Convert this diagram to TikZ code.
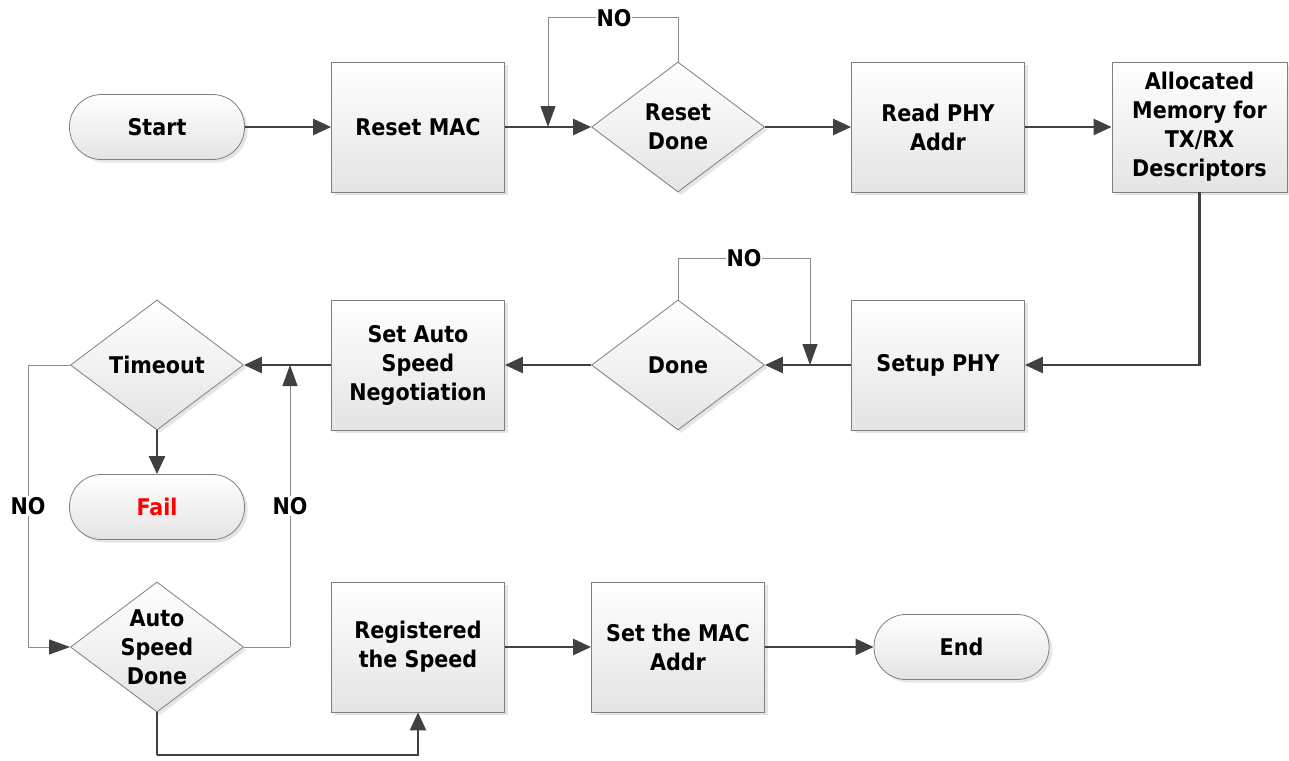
\documentclass[tikz,border=0pt]{standalone}
\usepackage{fontspec}
\setmainfont{DejaVu Sans Condensed}
\usetikzlibrary{shapes.geometric,shadows,arrows.meta}
\definecolor{bordc}{HTML}{7F7F7F}
\definecolor{botc}{HTML}{E4E4E4}
\definecolor{linec}{HTML}{404040}
\definecolor{loopc}{HTML}{8C8C8C}
\tikzset{
  basefill/.style={draw=bordc, line width=0.8pt, top color=white, bottom color=botc,
    drop shadow={shadow xshift=3pt, shadow yshift=-3pt, fill=black!20, opacity=0.5}},
  txt/.style={font=\bfseries\fontsize{23}{29}\selectfont, align=center, text=black},
  proc/.style={basefill, txt, rectangle, minimum width=173pt, minimum height=130pt, inner sep=2pt},
  term/.style={basefill, txt, rectangle, rounded corners=32pt, minimum width=175pt, minimum height=65pt},
  dec/.style={basefill, diamond, minimum width=173pt, minimum height=130pt, inner sep=0pt},
  dtext/.style={txt},
  mainline/.style={draw=linec, line width=2.5pt, -{Triangle[length=18pt,width=16pt,color=linec]}},
  plain/.style={draw=linec, line width=2.5pt},
  loopline/.style={draw=loopc, line width=1pt},
  looparrow/.style={draw=loopc, line width=1pt, -{Triangle[length=21pt,width=15pt,color=linec]}},
  nolab/.style={txt, fill=white, inner sep=1pt}
}
\begin{document}
\begin{tikzpicture}[x=1pt,y=-1pt]
\useasboundingbox (0,0) rectangle (1289,760);
% nodes
\node[term] (start) at (157,127) {Start};
\node[proc] (rmac) at (418,127) {Reset MAC};
\node[dec] (rdone) at (678,127) {};
\node[dtext] (rdonet) at (678,127) {Reset\\Done};
\node[proc] (rphy) at (938,127) {Read PHY\\Addr};
\node[proc, minimum width=175pt] (alloc) at (1199.5,127) {Allocated\\Memory for\\TX/RX\\Descriptors};
\node[proc] (setup) at (938,365) {Setup PHY};
\node[dec] (done) at (678,365) {};
\node[dtext] (donet) at (678,365) {Done};
\node[proc] (sasn) at (418,365) {Set Auto\\Speed\\Negotiation};
\node[dec] (tout) at (157,365) {};
\node[dtext] (toutt) at (157,365) {Timeout};
\node[term] (fail) at (157,507) {\textcolor[HTML]{FF0000}{Fail}};
\node[dec] (asd) at (157,647) {};
\node[dtext] (asdt) at (157,647) {Auto\\Speed\\Done};
\node[proc] (reg) at (418,647) {Registered\\the Speed};
\node[proc] (smac) at (678,647) {Set the MAC\\Addr};
\node[term] (end) at (961.5,647) {End};
% junction coordinates
\coordinate (j1) at (548,127);
\coordinate (t1) at (548,18);
\coordinate (j2) at (810,365);
\coordinate (t2) at (810,258);
\coordinate (l1) at (28,365);
\coordinate (j3) at (290,365);
\coordinate (r3) at (290,647);
\coordinate (b1) at (157,755);
% connectors
\draw[mainline] (start) -- (rmac);
\draw[mainline] (rmac) -- (rdone);
\draw[loopline] (rdone.north) |- (t1);
\draw[looparrow] (t1) -- (j1);
\draw[mainline] (rdone) -- (rphy);
\draw[mainline] (rphy) -- (alloc);
\draw[mainline] (alloc.south) |- (setup.east);
\draw[mainline] (setup) -- (done);
\draw[loopline] (done.north) |- (t2);
\draw[looparrow] (t2) -- (j2);
\draw[mainline] (done) -- (sasn);
\draw[mainline] (sasn) -- (tout);
\draw[mainline] (tout.south) -- (fail.north);
\draw[loopline] (tout.west) -- (l1);
\draw[looparrow] (l1) |- (asd.west);
\draw[loopline] (asd.east) -- (r3);
\draw[looparrow] (r3) -- (j3);
\draw[plain] (asd.south) -- (b1);
\draw[mainline] (b1) -| (reg.south);
\draw[mainline] (reg) -- (smac);
\draw[mainline] (smac) -- (end);
% labels
\node[nolab] (no1) at (614,18) {NO};
\node[nolab] (no2) at (744,258) {NO};
\node[nolab] (no3) at (28,506) {NO};
\node[nolab] (no4) at (290,506) {NO};
\end{tikzpicture}
\end{document}
